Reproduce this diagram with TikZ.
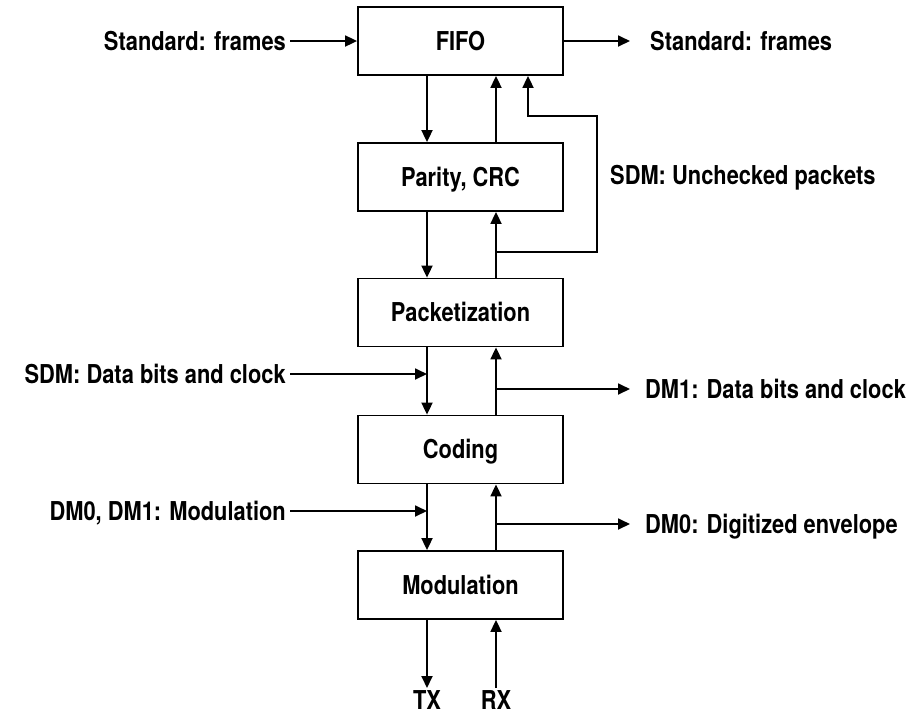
\documentclass[tikz,border=0pt]{standalone}
\usepackage{fontspec}
\setmainfont[FakeStretch=0.84]{TeX Gyre Heros}
\usetikzlibrary{arrows.meta}

\begin{document}
\begin{tikzpicture}[x=1pt, y=-1pt,
		every node/.style={font=\fontsize{26}{30}\selectfont\bfseries, text height=18.7pt, text depth=0pt},
		block/.style={draw, line width=1.8pt, minimum width=205pt, minimum height=68pt, inner sep=0pt},
		inlbl/.style={inner ysep=0pt, inner xsep=4pt, anchor=east},
		outlbl/.style={inner ysep=0pt, inner xsep=15pt, anchor=west},
		portlbl/.style={inner xsep=0pt, inner ysep=3pt, anchor=north},
		arr/.style={line width=1.8pt, -{Triangle[length=12pt, width=11pt]}}]
		\useasboundingbox (0,0) rectangle (911,716);
		
		%columns of the two paths
		\coordinate (dn) at (427,0);
		\coordinate (up) at (496,0);
		\coordinate (fbin) at (528,0);
		
		%the stack
		\node[block] (fifo) at (460.5,41) {FIFO};
		\node[block] (crc) at (460.5,177) {Parity, CRC};
		\node[block] (pkt) at (460.5,312.5) {Packetization};
		\node[block] (cod) at (460.5,449.5) {Coding};
		\node[block] (mod) at (460.5,585) {Modulation};
		
		%down path
		\draw[arr] (fifo.south -| dn) -- (crc.north -| dn);
		\draw[arr] (crc.south -| dn) -- (pkt.north -| dn);
		\draw[arr] (pkt.south -| dn) -- (cod.north -| dn);
		\draw[arr] (cod.south -| dn) -- (mod.north -| dn);
		
		%up path
		\draw[arr] (crc.north -| up) -- (fifo.south -| up);
		\draw[arr] (pkt.north -| up) -- (crc.south -| up);
		\draw[arr] (cod.north -| up) -- (pkt.south -| up);
		\draw[arr] (mod.north -| up) -- (cod.south -| up);
		
		%bypass of the checks
		\coordinate (fbsplit) at (496,252);
		\coordinate (fbturn) at (597,116);
		\draw[arr] (fbsplit) -| (fbturn) -| (fifo.south -| fbin);
		\node[anchor=west, inner sep=0pt] (unchk) at (610,175) {SDM: Unchecked packets};
		
		%frames in and out
		\node[inlbl] (frin) at (290,41) {Standard: frames};
		\node[outlbl, inner xsep=20pt] (frout) at (630,41) {Standard: frames};
		\draw[arr] (frin.east) -- (fifo.west);
		\draw[arr] (fifo.east) -- (frout.west);
		
		%taps between packetization and coding
		\node[inlbl] (sdmin) at (290,374) {SDM: Data bits and clock};
		\coordinate (sdmtap) at (427,374);
		\draw[arr] (sdmin.east) -- (sdmtap);
		\coordinate (dm1tap) at (496,389);
		\node[outlbl] (dm1out) at (630,389) {DM1: Data bits and clock};
		\draw[arr] (dm1tap) -- (dm1out.west);
		
		%taps between coding and modulation
		\node[inlbl] (modin) at (290,511) {DM0, DM1: Modulation};
		\coordinate (modtap) at (427,511);
		\draw[arr] (modin.east) -- (modtap);
		\coordinate (envtap) at (496,524);
		\node[outlbl] (envout) at (630,524) {DM0: Digitized envelope};
		\draw[arr] (envtap) -- (envout.west);
		
		%line side
		\node[portlbl] (tx) at (427,688) {TX};
		\node[portlbl] (rx) at (496,688) {RX};
		\draw[arr] (mod.south -| dn) -- (tx.north);
		\draw[arr] (rx.north) -- (mod.south -| up);
\end{tikzpicture}
\end{document}
